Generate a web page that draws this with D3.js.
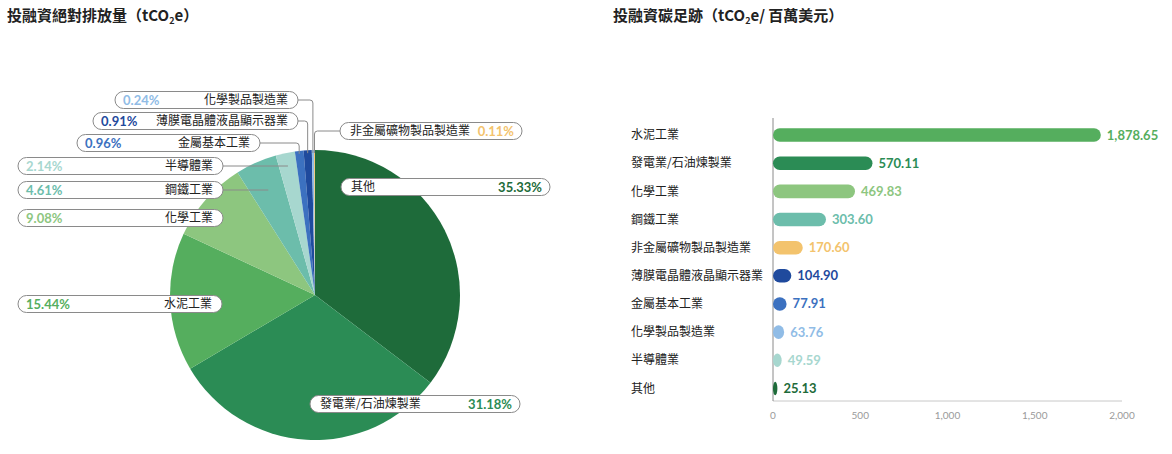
<!DOCTYPE html>
<html><head><meta charset="utf-8">
<script src="https://cdn.jsdelivr.net/npm/d3@7"></script>
<style>
body{margin:0;background:#fff;}
svg{display:block;font-family:"Noto Sans CJK TC","Noto Sans",sans-serif;}
</style></head>
<body><svg id="chart" width="1172" height="454"></svg>
<script>
// ---------- data ----------
const pieCategories = ["其他","發電業/石油煉製業","水泥工業","化學工業","鋼鐵工業","半導體業","金屬基本工業","薄膜電晶體液晶顯示器業","化學製品製造業","非金屬礦物製品製造業"];
const pieShares = [35.33,31.18,15.44,9.08,4.61,2.14,0.96,0.91,0.24,0.11];

const barCategories = ["水泥工業","發電業/石油煉製業","化學工業","鋼鐵工業","非金屬礦物製品製造業","薄膜電晶體液晶顯示器業","金屬基本工業","化學製品製造業","半導體業","其他"];
const barValues = [1878.65,570.11,469.83,303.60,170.60,104.90,77.91,63.76,49.59,25.13];
const xTicks = [0,500,1000,1500,2000];

// ---------- styles ----------
const colors = {
  "其他":"#1e6b3a",
  "發電業/石油煉製業":"#2b8c55",
  "水泥工業":"#55ae5e",
  "化學工業":"#8dc67f",
  "鋼鐵工業":"#6cbdab",
  "半導體業":"#a7d7cf",
  "金屬基本工業":"#3c71c0",
  "薄膜電晶體液晶顯示器業":"#1f4a9d",
  "化學製品製造業":"#90bce6",
  "非金屬礦物製品製造業":"#f3c36d"
};
// label pill layout (annotation placement)
const pillLayout = {
  "其他":{side:"R",x:341,y:187,w:209,lead:"none"},
  "發電業/石油煉製業":{side:"R",x:310,y:404,w:210,lead:"none"},
  "水泥工業":{side:"L",x:18,y:304,w:204,lead:"none"},
  "化學工業":{side:"L",x:18,y:218,w:205,lead:"none"},
  "鋼鐵工業":{side:"L",x:18,y:190,w:205,lead:"ray"},
  "半導體業":{side:"L",x:18,y:166,w:205,lead:"ray"},
  "金屬基本工業":{side:"L",x:77,y:143,w:183,lead:"down"},
  "薄膜電晶體液晶顯示器業":{side:"L",x:93,y:121,w:205,lead:"down"},
  "化學製品製造業":{side:"L",x:115,y:100,w:183,lead:"down"},
  "非金屬礦物製品製造業":{side:"R",x:340,y:131,w:182,lead:"downL"}
};

const svg = d3.select("#chart");

// ---------- titles ----------
function title(x, parts){
  const t = svg.append("text").attr("x",x).attr("y",21)
    .attr("font-size",15).attr("font-weight",700).attr("fill","#222");
  parts.forEach(p=>{
    const s = t.append("tspan").text(p.t);
    if(p.sub){ s.attr("font-size",9).attr("dy",3); }
    else if(p.after){ s.attr("dy",-3); }
  });
}
title(7,[{t:"投融資絕對排放量（tCO"},{t:"2",sub:true},{t:"e）",after:true}]);
title(613,[{t:"投融資碳足跡（tCO"},{t:"2",sub:true},{t:"e/ 百萬美元）",after:true}]);

// ---------- pie ----------
const cx = 315, cy = 295, R = 145;
const pieData = pieCategories.map((c,i)=>({cat:c, v:pieShares[i]}));
const pie = d3.pie().sort(null).value(d=>d.v);
const arcs = pie(pieData);
const arc = d3.arc().innerRadius(0).outerRadius(R);
const pg = svg.append("g").attr("transform",`translate(${cx},${cy})`);
pg.selectAll("path").data(arcs).join("path")
  .attr("d",arc).attr("fill",d=>colors[d.data.cat]);

// leader lines
const lg = svg.append("g").attr("fill","none").attr("stroke","#8a8a8a").attr("stroke-width",1);
arcs.forEach(a=>{
  const L = pillLayout[a.data.cat];
  const mid = (a.startAngle+a.endAngle)/2;
  const mx = cx + R*Math.sin(mid);
  if(L.lead==="ray"){
    const dy = L.y - cy;
    const x2 = cx + (-dy)*Math.tan(mid);
    lg.append("path").attr("d",`M${L.x+L.w},${L.y}H${x2}`);
  } else if(L.lead==="down"){
    const yEdge = cy - Math.sqrt(R*R-(mx-cx)*(mx-cx)) + 3;
    const r = 3;
    lg.append("path").attr("d",`M${L.x+L.w},${L.y}H${mx-r}Q${mx},${L.y} ${mx},${L.y+r}V${yEdge}`);
  } else if(L.lead==="downL"){
    const yEdge = cy - Math.sqrt(R*R-(mx-cx)*(mx-cx)) + 3;
    const r = 3;
    lg.append("path").attr("d",`M${L.x},${L.y}H${mx+r}Q${mx},${L.y} ${mx},${L.y+r}V${yEdge}`);
  }
});

// pills
const ph = 17;
const pillG = svg.append("g");
arcs.forEach(a=>{
  const c = a.data.cat, L = pillLayout[c];
  const g = pillG.append("g");
  g.append("rect").attr("x",L.x).attr("y",L.y-ph/2).attr("width",L.w).attr("height",ph)
    .attr("rx",ph/2).attr("fill","#fff").attr("stroke","#8a8a8a").attr("stroke-width",1);
  const pct = d3.format(".2f")(a.data.v)+"%";
  const nameX = L.side==="L" ? L.x+L.w-10 : L.x+10;
  const pctX = L.side==="L" ? L.x+8 : L.x+L.w-8;
  g.append("text").attr("x",nameX).attr("y",L.y+4.3)
    .attr("text-anchor",L.side==="L"?"end":"start")
    .attr("font-size",12).attr("fill","#222").text(c);
  g.append("text").attr("x",pctX).attr("y",L.y+4.6)
    .attr("text-anchor",L.side==="L"?"start":"end")
    .attr("font-family","Lato, 'Noto Sans', sans-serif")
    .attr("font-size",13).attr("font-weight",700).attr("fill",colors[c]).text(pct);
});

// ---------- bar chart ----------
const x = d3.scaleLinear().domain([0,2000]).range([773,1122]);
const y = d3.scaleBand().domain(barCategories).range([121,402.5]).paddingInner(0.52).paddingOuter(0.26);
const bh = y.bandwidth();
const bg = svg.append("g");

// x axis baseline
bg.append("line").attr("x1",x(0)).attr("x2",x(2000)).attr("y1",401).attr("y2",401)
  .attr("stroke","#c8c8c8").attr("stroke-width",1);
xTicks.forEach(t=>{
  bg.append("text").attr("x",x(t)).attr("y",419).attr("text-anchor","middle")
    .attr("font-family","Lato, 'Noto Sans', sans-serif")
    .attr("font-size",10).attr("fill","#9a9a9a").text(d3.format(",")(t));
});
// y axis line
bg.append("line").attr("x1",x(0)).attr("x2",x(0)).attr("y1",118).attr("y2",401)
  .attr("stroke","#8a8a8a").attr("stroke-width",1);

barCategories.forEach((c,i)=>{
  const v = barValues[i];
  const yc = y(c)+bh/2;
  const w = x(v)-x(0);
  bg.append("rect").attr("x",x(0)).attr("y",y(c)).attr("width",w).attr("height",bh)
    .attr("rx",Math.min(bh/2,w/2)).attr("ry",bh/2).attr("fill",colors[c]);
  bg.append("text").attr("x",631).attr("y",yc+4.2).attr("font-size",12).attr("fill","#222").text(c);
  bg.append("text").attr("x",x(v)+6).attr("y",yc+4.5)
    .attr("font-family","Lato, 'Noto Sans', sans-serif")
    .attr("font-size",13).attr("font-weight",700).attr("fill",colors[c])
    .text(d3.format(",.2f")(v));
});
</script></body></html>
